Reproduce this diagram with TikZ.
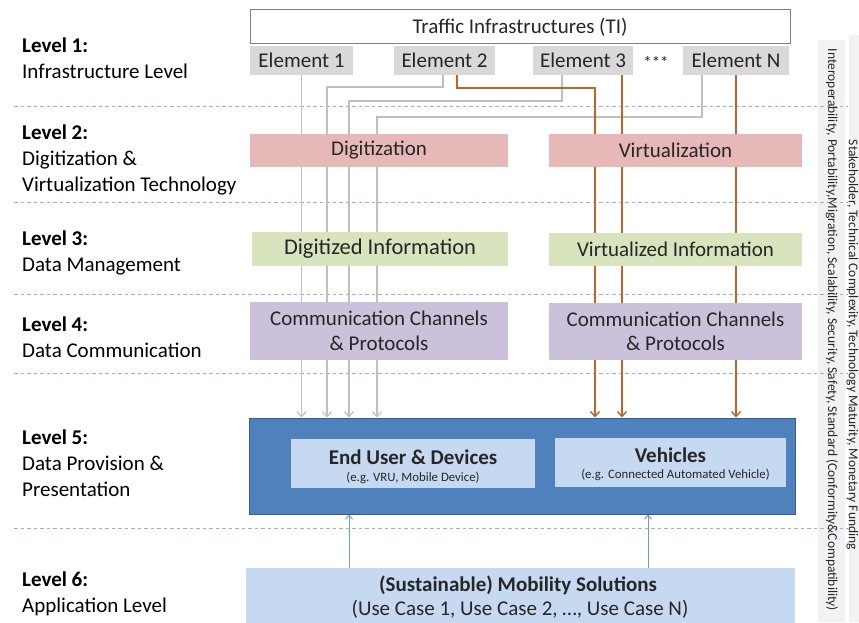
\documentclass[tikz,border=0pt]{standalone}
\usepackage{fontspec}
\setmainfont{Carlito}
\usetikzlibrary{arrows.meta}
\definecolor{pinkf}{HTML}{E6B9B8}
\definecolor{greenf}{HTML}{D7E4BD}
\definecolor{purpf}{HTML}{CCC1DA}
\definecolor{bigblue}{HTML}{4F81BD}
\definecolor{bigborder}{HTML}{385D8A}
\definecolor{lightb}{HTML}{C6D9F1}
\definecolor{glinec}{HTML}{BFBFBF}
\definecolor{olinec}{HTML}{C0652A}
\definecolor{blinec}{HTML}{6F9BD3}
\definecolor{dashc}{HTML}{95B3D7}
\definecolor{stripc}{HTML}{F2F2F2}
\definecolor{elemc}{HTML}{D9D9D9}
\definecolor{tiborder}{HTML}{808080}
\definecolor{txt}{HTML}{262626}
\pgfdeclarelayer{back}
\pgfdeclarelayer{bg}
\pgfsetlayers{back,bg,main}
\begin{document}
\begin{tikzpicture}[x=1pt,y=-1pt,
  box/.style={rectangle, inner sep=0pt, align=center, text=txt, font=\fontsize{21}{24.5}\selectfont},
  btxt/.style={inner sep=0pt, align=center, text=txt},
  elem/.style={box, fill=elemc, minimum height=29pt},
  lvl/.style={anchor=west, inner sep=0pt, align=left, text=black, font=\fontsize{21}{26}\selectfont},
  gline/.style={draw=glinec, line width=1.2pt, -{Straight Barb[length=5pt,width=9pt]}},
  oline/.style={draw=olinec, line width=1.4pt, -{Straight Barb[length=5pt,width=9pt]}},
  bline/.style={draw=blinec, line width=1pt, -{Straight Barb[length=4pt,width=7pt]}},
  dline/.style={draw=dashc, line width=1pt, dash pattern=on 3.5pt off 3pt},
  rot/.style={rotate=-90, inner sep=0pt, text=txt, font=\fontsize{13.5}{15}\selectfont}
]
\useasboundingbox (0,0) rectangle (859,622);
\clip (0,0) rectangle (859,622);

% side strips and separators
\begin{pgfonlayer}{back}
\fill[stripc] (818,40) rectangle (845,622);
\fill[stripc] (849,35) rectangle (859,622);
\foreach \yy in {106,202,294,373,528} \draw[dline] (14,\yy) -- (848,\yy);
\end{pgfonlayer}

% level labels
\node[lvl] (l1) at (22,58.5) {\textbf{Level 1:}\\Infrastructure Level};
\node[lvl] (l2) at (22,160) {\textbf{Level 2:}\\Digitization \&\\Virtualization Technology};
\node[lvl] (l3) at (22,252.5) {\textbf{Level 3:}\\Data Management};
\node[lvl] (l4) at (22,337.5) {\textbf{Level 4:}\\Data Communication};
\node[lvl] (l5) at (22,463) {\textbf{Level 5:}\\Data Provision \&\\Presentation};
\node[lvl] (l6) at (22,594) {\textbf{Level 6:}\\Application Level};

% level 1
\node[box, draw=tiborder, line width=0.8pt, fill=white, minimum width=540pt, minimum height=34pt] (ti) at (520,26) {};
\node[btxt, font=\fontsize{21}{24}\selectfont] (tit) at (520,27) {Traffic Infrastructures (TI)};
\node[elem, minimum width=103pt] (e1) at (301.5,60.5) {Element 1};
\node[elem, minimum width=101pt] (e2) at (444.5,60.5) {Element 2};
\node[elem, minimum width=100pt] (e3) at (583,60.5) {Element 3};
\node[elem, minimum width=106pt] (eN) at (736,60.5) {Element N};
\node[box, font=\fontsize{17}{18}\selectfont] (dots) at (656,62) {***};

% level 2-4
\node[box, fill=pinkf, minimum width=258pt, minimum height=33pt] (dig) at (379,150.5) {Digitization};
\node[box, fill=pinkf, minimum width=253pt, minimum height=33pt] (vir) at (675.5,150.5) {Virtualization};
\node[box, fill=greenf, minimum width=256pt, minimum height=34pt, font=\fontsize{22.5}{26}\selectfont] (digi) at (380,249) {Digitized Information};
\node[box, fill=greenf, minimum width=253pt, minimum height=33pt] (viri) at (675.5,249.5) {Virtualized Information};
\node[box, fill=purpf, minimum width=258pt, minimum height=58pt] (cc1) at (379,331) {Communication Channels\\\& Protocols};
\node[box, fill=purpf, minimum width=253pt, minimum height=57pt] (cc2) at (675.5,331.5) {Communication Channels\\\& Protocols};

% level 5
\node[rectangle, draw=bigborder, line width=1pt, fill=bigblue, minimum width=546pt, minimum height=96pt, inner sep=0pt] (big) at (522,466) {};
\node[box, fill=lightb, minimum width=244pt, minimum height=49pt] (eu) at (413,463.5) {};
\node[btxt, font=\bfseries\fontsize{21}{24}\selectfont] (eut) at (413,457) {End User \& Devices};
\node[btxt, font=\fontsize{12.8}{14}\selectfont] (eus) at (413,478) {(e.g. VRU, Mobile Device)};
\node[box, fill=lightb, minimum width=231pt, minimum height=49pt] (veh) at (670.5,462.5) {};
\node[btxt, font=\bfseries\fontsize{21}{24}\selectfont] (veht) at (670.5,455) {Vehicles};
\node[btxt, font=\fontsize{12.8}{14}\selectfont] (vehs) at (675.5,475) {(e.g. Connected Automated Vehicle)};

% level 6
\node[box, fill=lightb, minimum width=549pt, minimum height=56pt] (mob) at (520.5,596) {};
\node[btxt, font=\bfseries\fontsize{21}{24}\selectfont] (mobt) at (518,585) {(Sustainable) Mobility Solutions};
\node[btxt, font=\fontsize{21}{24}\selectfont] (mobs) at (520,609) {(Use Case 1, Use Case 2, \ldots, Use Case N)};

% right texts
\node[rot] (r1) at (832,330) {Interoperability, Portability,Migration, Scalability, Security, Safety, Standard (Conformity\&Compatibility)};
\node[rot] (r2) at (852.5,345) {Stakeholder, Technical Complexity, Technology Maturity, Monetary Funding};

% connectors
\coordinate (g2) at (443,0);
\coordinate (gh2) at (327,87);
\coordinate (g3) at (562,0);
\coordinate (gh3) at (349,101);
\coordinate (g4) at (702,0);
\coordinate (gh4) at (377,117);
\coordinate (o2) at (457,0);
\coordinate (oh2) at (595,88);
\coordinate (o3) at (622,0);
\coordinate (b1) at (349,0);
\coordinate (b2) at (648,0);
\begin{pgfonlayer}{bg}
\draw[gline] (e1.south) -- (e1.south |- big.north);
\draw[gline] (e2.south -| g2) |- (gh2) -- (gh2 |- big.north);
\draw[gline] (e3.south -| g3) |- (gh3) -- (gh3 |- big.north);
\draw[gline] (eN.south -| g4) |- (gh4) -- (gh4 |- big.north);
\draw[oline] (e2.south -| o2) |- (oh2) -- (oh2 |- big.north);
\draw[oline] (e3.south -| o3) -- (o3 |- big.north);
\draw[oline] (eN.south) -- (eN.south |- big.north);
\draw[bline] (mob.north -| b1) -- (b1 |- big.south);
\draw[bline] (mob.north -| b2) -- (b2 |- big.south);
\end{pgfonlayer}
\end{tikzpicture}
\end{document}
